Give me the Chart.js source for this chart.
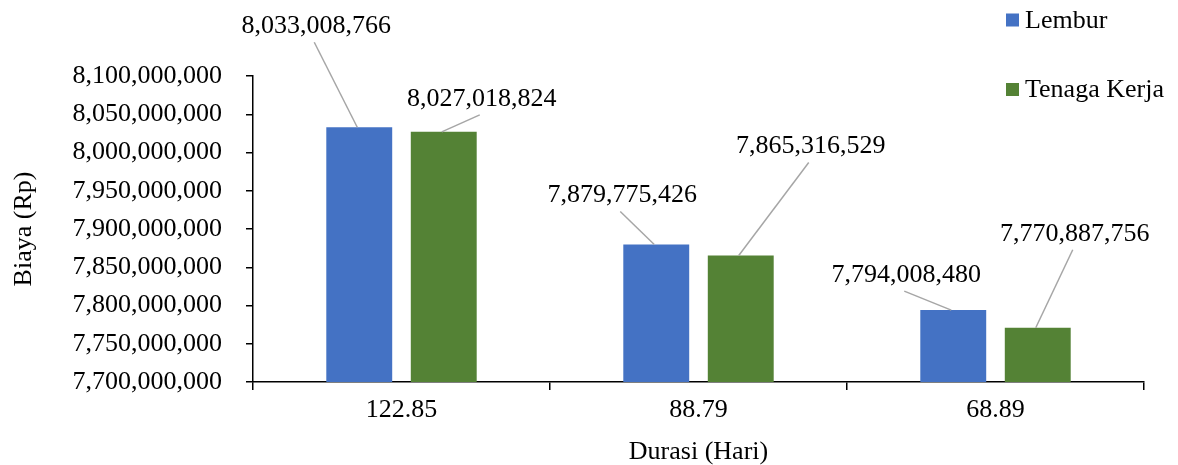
<!DOCTYPE html>
<html lang="id">

<head>
    <meta charset="UTF-8">
    <title>Biaya vs Durasi</title>
    <script src="https://cdn.jsdelivr.net/npm/chart.js"></script>
    <style>
        body {
            margin: 0;
            background: #fff;
        }

        .wrap {
            width: 1178px;
            height: 465px;
            position: relative;
        }
    </style>
</head>

<body>
    <div class="wrap">
        <canvas id="biayaChart"></canvas>
    </div>
    <script>
        // data
        const durasi = ["122.85", "88.79", "68.89"];
        const lembur = [8033008766, 7879775426, 7794008480];
        const tenagaKerja = [8027018824, 7865316529, 7770887756];
        const yMin = 7700000000;
        const yMax = 8100000000;
        const yStep = 50000000;

        const FONT = "'Liberation Serif', 'Times New Roman', serif";
        const fmt = v => Number(v).toLocaleString("en-US");

        // label placement (offset from top-centre of each bar), like the moved Excel labels
        const labelOffsets = [
            [[-43, -102], [-34, -50], [-47, -36]],
            [[38, -34], [70, -110], [37, -95]]
        ];

        const labelPlugin = {
            id: "leaderLabels",
            afterDatasetsDraw(chart) {
                const ctx = chart.ctx;
                ctx.save();
                ctx.font = "26px " + FONT;
                ctx.textAlign = "center";
                ctx.textBaseline = "middle";
                chart.data.datasets.forEach((ds, di) => {
                    chart.getDatasetMeta(di).data.forEach((bar, i) => {
                        const off = labelOffsets[di][i];
                        const lx = bar.x + off[0];
                        const ly = bar.y + off[1];
                        ctx.strokeStyle = "#a6a6a6";
                        ctx.lineWidth = 1.5;
                        ctx.beginPath();
                        ctx.moveTo(lx - 2, ly + 17);
                        ctx.lineTo(bar.x - 2, bar.y);
                        ctx.stroke();
                        ctx.fillStyle = "#000";
                        ctx.fillText(fmt(ds.data[i]), lx, ly + 1);
                    });
                });
                ctx.restore();
            },
            afterDraw(chart) {
                // legend top right
                const ctx = chart.ctx;
                ctx.save();
                ctx.font = "26px " + FONT;
                ctx.textAlign = "left";
                ctx.textBaseline = "middle";
                chart.data.datasets.forEach((ds, di) => {
                    const y = 20 + di * 69.5;
                    ctx.fillStyle = ds.backgroundColor;
                    ctx.fillRect(1006, y - 6.5, 13, 13);
                    ctx.fillStyle = "#000";
                    ctx.fillText(ds.label, 1025, y + 1);
                });
                ctx.restore();
            }
        };

        new Chart(document.getElementById("biayaChart"), {
            type: "bar",
            data: {
                labels: durasi,
                datasets: [
                    { label: "Lembur", data: lembur, backgroundColor: "#4472C4" },
                    { label: "Tenaga Kerja", data: tenagaKerja, backgroundColor: "#548235" }
                ]
            },
            options: {
                responsive: true,
                maintainAspectRatio: false,
                animation: false,
                categoryPercentage: 0.569,
                barPercentage: 0.78,
                layout: { padding: { left: 0, right: 34, top: 76, bottom: 0 } },
                plugins: {
                    legend: { display: false },
                    tooltip: { enabled: false }
                },
                scales: {
                    x: {
                        afterFit: s => { s.height = 83; },
                        grid: { drawOnChartArea: false, offset: true, tickLength: 8, color: "#000", lineWidth: 1.5 },
                        border: { color: "#000", width: 1.5 },
                        ticks: { color: "#000", padding: 5, font: { family: FONT, size: 26 } },
                        title: {
                            display: true,
                            text: "Durasi (Hari)",
                            color: "#000",
                            padding: { top: 0, bottom: 0 },
                            font: { family: FONT, size: 26, lineHeight: 1 }
                        }
                    },
                    y: {
                        min: yMin,
                        max: yMax,
                        afterFit: s => { s.width = 253; },
                        grid: { drawOnChartArea: false, tickLength: 7, color: "#000", lineWidth: 1.5 },
                        border: { color: "#000", width: 1.5 },
                        ticks: {
                            stepSize: yStep,
                            color: "#000",
                            padding: 24,
                            font: { family: FONT, size: 26 },
                            callback: v => fmt(v)
                        },
                        title: {
                            display: true,
                            text: "Biaya (Rp)",
                            color: "#000",
                            padding: { top: 11, bottom: 0 },
                            font: { family: FONT, size: 26, lineHeight: 1 }
                        }
                    }
                }
            },
            plugins: [labelPlugin]
        });
    </script>
</body>

</html>
